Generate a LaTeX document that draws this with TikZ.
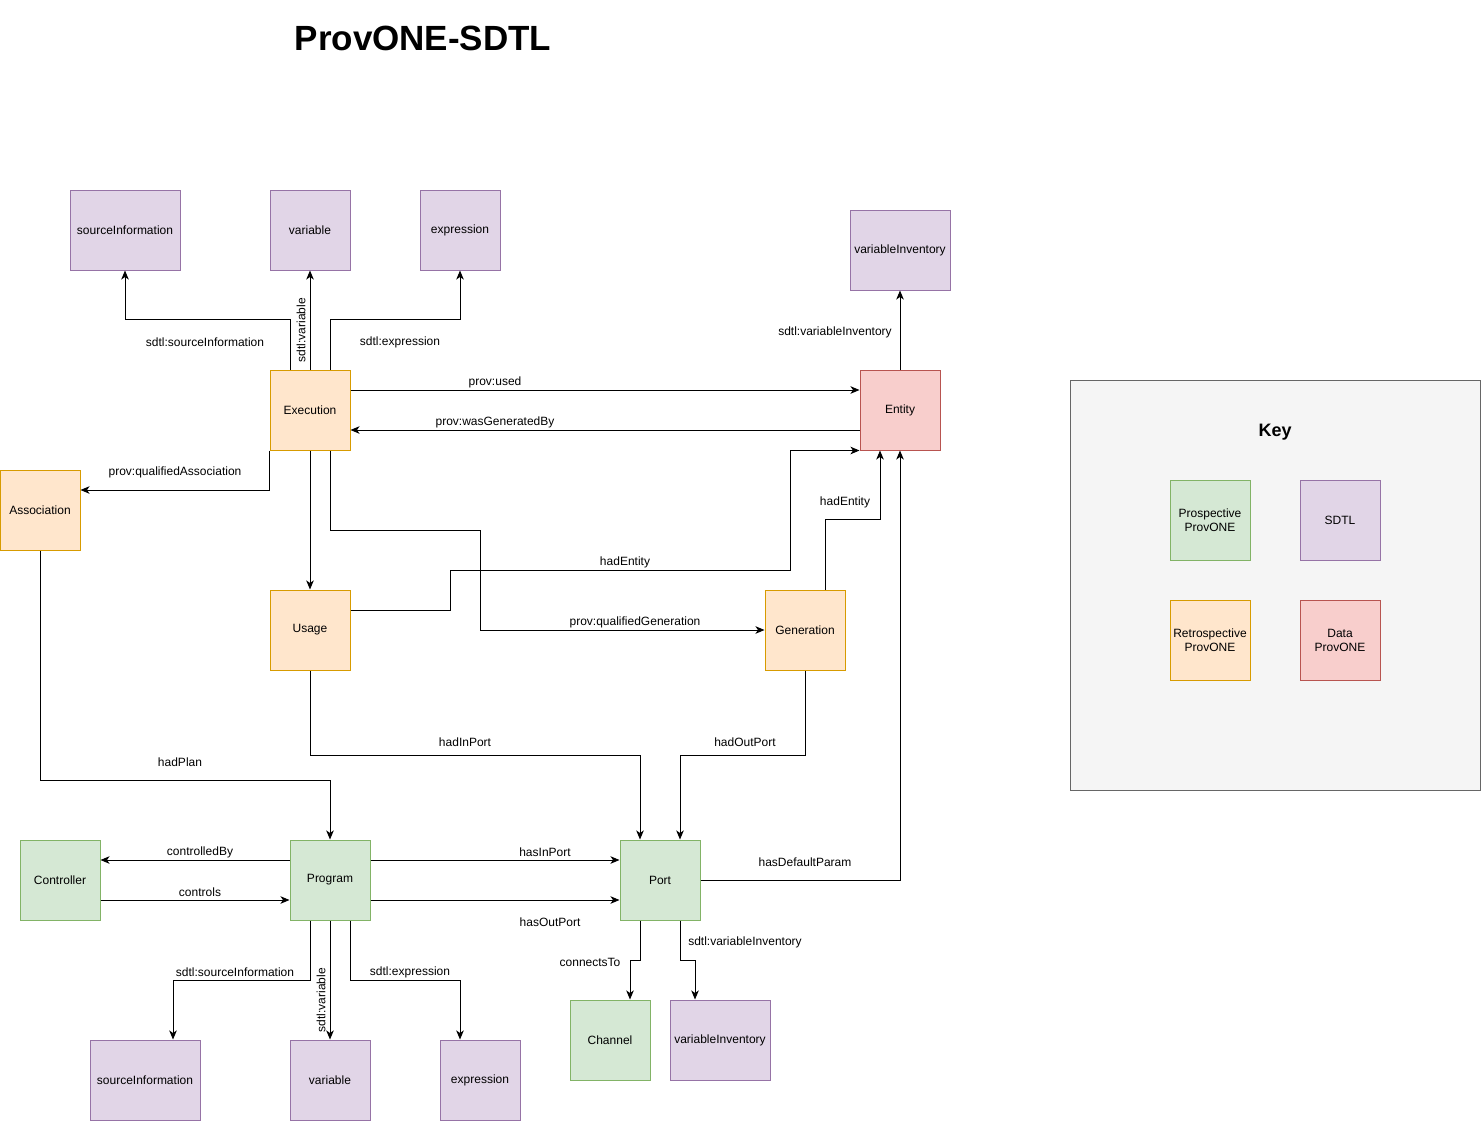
\documentclass[tikz,border=0pt]{standalone}
\usepackage{fontspec}
\setmainfont{Liberation Sans}
\usetikzlibrary{arrows.meta,calc}
\definecolor{gfill}{HTML}{D5E8D4}\definecolor{gdraw}{HTML}{82B366}
\definecolor{pfill}{HTML}{E1D5E7}\definecolor{pdraw}{HTML}{9673A6}
\definecolor{ofill}{HTML}{FFE6CC}\definecolor{odraw}{HTML}{D79B00}
\definecolor{rfill}{HTML}{F8CECC}\definecolor{rdraw}{HTML}{B85450}
\definecolor{kfill}{HTML}{F5F5F5}\definecolor{kdraw}{HTML}{666666}
\begin{document}
\begin{tikzpicture}[x=1pt,y=-1pt,line width=1pt,
  box/.style={draw,minimum width=80pt,minimum height=80pt,inner sep=1pt,align=center,font=\fontsize{12}{14}\selectfont},
  wbox/.style={box,minimum width=#1},
  green/.style={fill=gfill,draw=gdraw},
  purple/.style={fill=pfill,draw=pdraw},
  orange/.style={fill=ofill,draw=odraw},
  red/.style={fill=rfill,draw=rdraw},
  arr/.style={-{Stealth[length=9pt,width=7.5pt,inset=2.5pt]}},
  lbl/.style={inner sep=0pt,font=\fontsize{12}{14}\selectfont}]
\useasboundingbox (0,0) rectangle (1482,1121);
\node[font=\bfseries\fontsize{35}{40}\selectfont] (title) at (423,38) {ProvONE-SDTL};

% key
\node[draw=kdraw,fill=kfill,minimum width=410pt,minimum height=410pt,inner sep=0pt] (key) at (1275,585) {};
\node[font=\bfseries\fontsize{18}{20}\selectfont] (keyt) at (1275,432) {Key};
\node[box,green] (k1) at (1210,520) {Prospective\\ProvONE};
\node[box,purple] (k2) at (1340,520) {SDTL};
\node[box,orange] (k3) at (1210,640) {Retrospective\\ProvONE};
\node[box,red] (k4) at (1340,640) {Data\\ProvONE};

% nodes
\node[wbox=110pt,purple] (srcA) at (125,230) {sourceInformation};
\node[box,purple] (varA) at (310,230) {variable};
\node[box,purple] (exprA) at (460,230) {expression};
\node[wbox=100pt,purple] (varInvA) at (900,250) {variableInventory};
\node[box,orange] (exec) at (310,410) {Execution};
\node[box,red] (entity) at (900,410) {Entity};
\node[box,orange] (assoc) at (40,510) {Association};
\node[box,orange] (usage) at (310,630) {Usage};
\node[box,orange] (gen) at (805,630) {Generation};
\node[box,green] (ctrl) at (60,880) {Controller};
\node[box,green] (prog) at (330,880) {Program};
\node[box,green] (port) at (660,880) {Port};
\node[wbox=110pt,purple] (srcB) at (145,1080) {sourceInformation};
\node[box,purple] (varB) at (330,1080) {variable};
\node[box,purple] (exprB) at (480,1080) {expression};
\node[box,green] (chan) at (610,1040) {Channel};
\node[wbox=100pt,purple] (varInvB) at (720,1040) {variableInventory};

% edges
\draw[arr] ([xshift=-20pt]exec.north) -- ++(0,-50) -| (srcA.south);
\draw[arr] (exec.north) -- (varA.south);
\draw[arr] ([xshift=20pt]exec.north) -- ++(0,-50) -| (exprA.south);
\draw[arr] ($(exec.east)+(0,-20)$) -- ($(entity.west)+(0,-20)$);
\draw[arr] ($(entity.west)+(0,20)$) -- ($(exec.east)+(0,20)$);
\draw[arr] (exec.south west) |- ($(assoc.east)+(0,-20)$);
\draw[arr] (exec.south) -- (usage.north);
\draw[arr] ([xshift=20pt]exec.south) |- (480,530) |- (gen.west);
\draw[arr] ($(usage.east)+(0,-20)$) -- (450,610) |- (790,570) |- (entity.south west);
\draw[arr] ([xshift=20pt]gen.north) -- ++(0,-70) -| ([xshift=-20pt]entity.south);
\draw[arr] (entity.north) -- (varInvA.south);
\draw[arr] (assoc.south) -- ++(0,230) -| (prog.north);
\draw[arr] (usage.south) -- ++(0,85) -| ([xshift=-20pt]port.north);
\draw[arr] (gen.south) -- ++(0,85) -| ([xshift=20pt]port.north);
\draw[arr] (port.east) -| (entity.south);
\draw[arr] ($(prog.west)+(0,-20)$) -- ($(ctrl.east)+(0,-20)$);
\draw[arr] ($(ctrl.east)+(0,20)$) -- ($(prog.west)+(0,20)$);
\draw[arr] ($(prog.east)+(0,-20)$) -- ($(port.west)+(0,-20)$);
\draw[arr] ($(prog.east)+(0,20)$) -- ($(port.west)+(0,20)$);
\draw[arr] ([xshift=-20pt]prog.south) -- ++(0,60) -| ([xshift=28pt]srcB.north);
\draw[arr] (prog.south) -- (varB.north);
\draw[arr] ([xshift=20pt]prog.south) -- ++(0,60) -| ([xshift=-20pt]exprB.north);
\draw[arr] ([xshift=-20pt]port.south) -- ++(0,40) -| ([xshift=20pt]chan.north);
\draw[arr] ([xshift=20pt]port.south) -- ++(0,40) -| ([xshift=-25pt]varInvB.north);

% labels
\node[lbl] (l1) at (205,342) {sdtl:sourceInformation};
\node[lbl,rotate=90] (l2) at (301,330) {sdtl:variable};
\node[lbl] (l3) at (400,342) {sdtl:expression};
\node[lbl] (l4) at (495,382) {prov:used};
\node[lbl] (l5) at (495,422) {prov:wasGeneratedBy};
\node[lbl] (l6) at (175,472) {prov:qualifiedAssociation};
\node[lbl] (l7) at (635,622) {prov:qualifiedGeneration};
\node[lbl] (l8) at (625,562) {hadEntity};
\node[lbl] (l9) at (845,502) {hadEntity};
\node[lbl] (l10) at (835,332) {sdtl:variableInventory};
\node[lbl] (l11) at (180,762) {hadPlan};
\node[lbl] (l12) at (465,742) {hadInPort};
\node[lbl] (l13) at (745,742) {hadOutPort};
\node[lbl] (l14) at (805,862) {hasDefaultParam};
\node[lbl] (l15) at (200,852) {controlledBy};
\node[lbl] (l16) at (200,892) {controls};
\node[lbl] (l17) at (545,852) {hasInPort};
\node[lbl] (l18) at (550,922) {hasOutPort};
\node[lbl] (l19) at (235,972) {sdtl:sourceInformation};
\node[lbl,rotate=90] (l20) at (321,1000) {sdtl:variable};
\node[lbl] (l21) at (410,972) {sdtl:expression};
\node[lbl] (l22) at (590,962) {connectsTo};
\node[lbl] (l23) at (745,942) {sdtl:variableInventory};
\end{tikzpicture}
\end{document}
